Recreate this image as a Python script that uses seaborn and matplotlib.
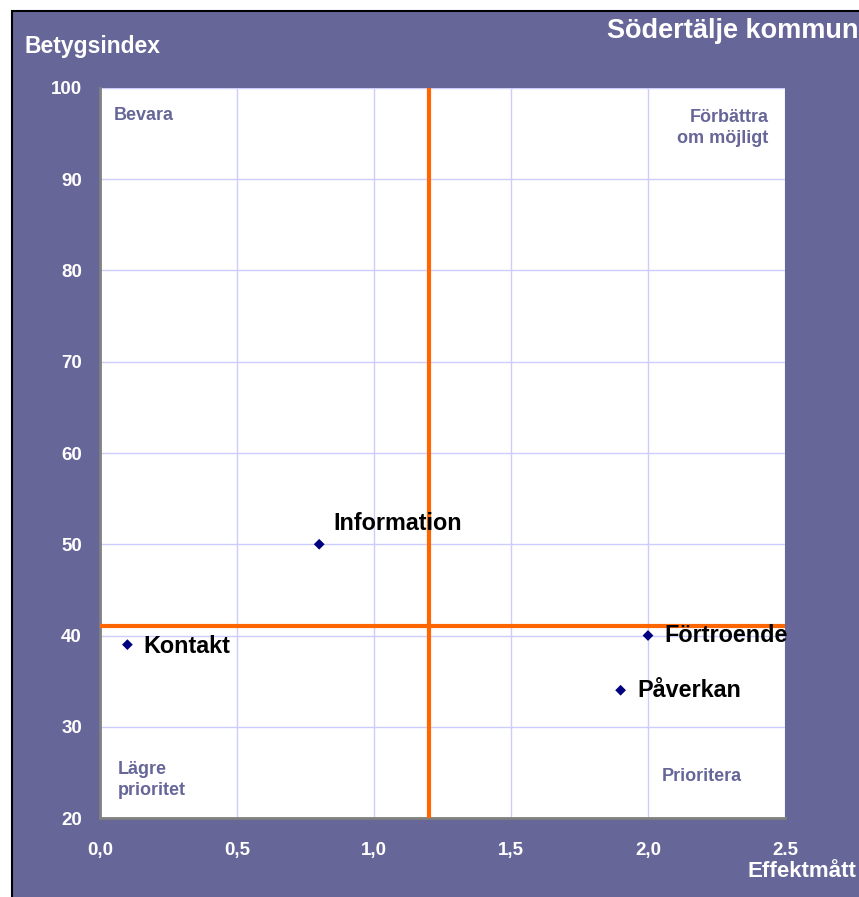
import matplotlib
matplotlib.use("Agg")
import matplotlib.pyplot as plt
import seaborn as sns
import pandas as pd
from matplotlib.patches import Rectangle

# Data
names = ["Information", "Kontakt", "Förtroende", "Påverkan"]
effekt = [0.8, 0.1, 2.0, 1.9]
betyg = [50, 39, 40, 34]
x_ticks = [0.0, 0.5, 1.0, 1.5, 2.0, 2.5]
x_labels = ["0,0", "0,5", "1,0", "1,5", "2,0", "2.5"]
y_ticks = [20, 30, 40, 50, 60, 70, 80, 90, 100]
x_split = 1.2
y_split = 41

df = pd.DataFrame({"name": names, "Effektmått": effekt, "Betygsindex": betyg})

purple = "#666699"
plt.rcParams["font.family"] = ["Liberation Sans", "DejaVu Sans"]

fig = plt.figure(figsize=(8.59, 8.97), dpi=100, facecolor="white")
# purple panel behind the chart
fig.patches.append(Rectangle((12 / 859, -0.01), 1.0, 1 - 11 / 897 + 0.01,
                             transform=fig.transFigure, facecolor=purple,
                             edgecolor="black", linewidth=1.5, zorder=-5))

ax = fig.add_axes([100 / 859, 1 - 818 / 897, 685 / 859, 730 / 897])
ax.set_zorder(2)
ax.set_facecolor("white")

sns.scatterplot(data=df, x="Effektmått", y="Betygsindex", marker="D", s=30,
                color="#000080", edgecolor="none", ax=ax, zorder=5)

ax.axvline(x_split, color="#ff6600", linewidth=3, zorder=4)
ax.axhline(y_split, color="#ff6600", linewidth=3, zorder=4)

ax.set_xlim(0, 2.5)
ax.set_ylim(20, 100)
ax.set_xticks(x_ticks)
ax.set_xticklabels(x_labels)
ax.set_yticks(y_ticks)
ax.grid(True, color="#ccccff", linewidth=1, zorder=1)
ax.set_axisbelow(True)
ax.tick_params(axis="both", length=0, colors="white", labelsize=13.5)
ax.tick_params(axis="x", pad=17)
ax.tick_params(axis="y", pad=13)
for lab in ax.get_xticklabels() + ax.get_yticklabels():
    lab.set_fontweight("bold")
ax.set_xlabel("")
ax.set_ylabel("")

for side in ["top", "right"]:
    ax.spines[side].set_visible(False)
for side in ["left", "bottom"]:
    ax.spines[side].set_color("#808080")
    ax.spines[side].set_linewidth(2)

# point labels
offsets = {"Information": (0.05, 2.3), "Kontakt": (0.06, -0.2), "Förtroende": (0.06, 0),
           "Påverkan": (0.06, 0)}
for n, x, y in zip(names, effekt, betyg):
    dx, dy = offsets[n]
    ax.text(x + dx, y + dy, n, fontsize=16.8, fontweight="bold", color="black",
            va="center", ha="left", zorder=6)

# quadrant labels
qkw = dict(color=purple, fontsize=13, fontweight="bold", linespacing=1.3)
ax.text(0.05, 97, "Bevara", ha="left", va="center", **qkw)
ax.text(2.44, 95.6, "Förbättra\nom möjligt", ha="right", va="center", **qkw)
ax.text(0.065, 24.2, "Lägre\nprioritet", ha="left", va="center", **qkw)
ax.text(2.05, 24.6, "Prioritera", ha="left", va="center", **qkw)

fig.text(25 / 859, 1 - 47 / 897, "Betygsindex", color="white", fontsize=16.5,
         fontweight="bold", ha="left", va="center")
fig.text(607 / 859, 1 - 31 / 897, "Södertälje kommun", color="white", fontsize=19.5,
         fontweight="bold", ha="left", va="center")
fig.text(856 / 859, 1 - 871 / 897, "Effektmått", color="white", fontsize=16,
         fontweight="bold", ha="right", va="center")

fig.savefig("out.png", dpi=100, facecolor=fig.get_facecolor())
